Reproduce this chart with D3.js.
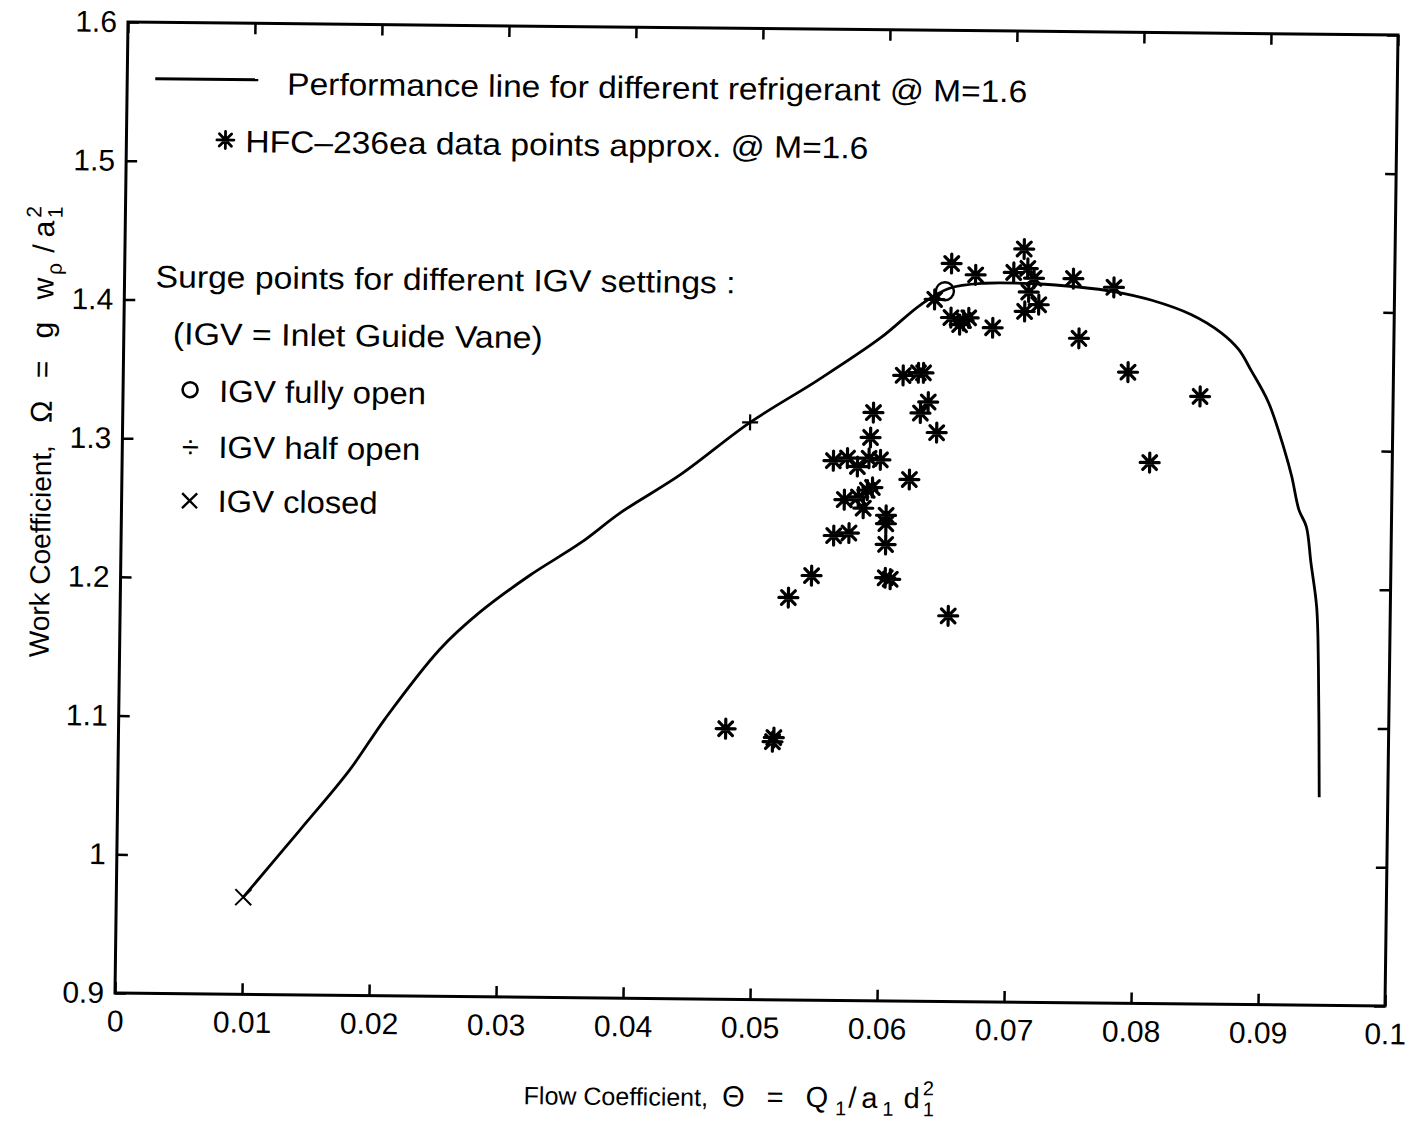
<html>
<head>
<style>
  body { margin: 0; background: #fff; }
  text { font-family: "Liberation Sans", Arial, Helvetica, sans-serif; fill: #000; }
</style>
</head>
<body>
<svg id="chart" width="1405" height="1121"></svg>
<script src="https://d3js.org/d3.v7.min.js"></script>
<script>
// performance line
var perfX = [0.0100, 0.0144, 0.0182, 0.0210, 0.0252, 0.0283, 0.0322, 0.0362, 0.0393, 0.0440, 0.0494,
             0.0547, 0.0596, 0.0627, 0.0649, 0.0677, 0.0716, 0.0751, 0.0779, 0.0809, 0.0840, 0.0864,
             0.0878, 0.0888, 0.0902, 0.0915, 0.0921, 0.0927, 0.0933, 0.0937, 0.0942, 0.0944, 0.0946];
var perfY = [0.970, 1.019, 1.062, 1.100, 1.150, 1.177, 1.204, 1.228, 1.250, 1.278, 1.316,
             1.347, 1.378, 1.402, 1.414, 1.418, 1.418, 1.416, 1.413, 1.407, 1.397, 1.384,
             1.372, 1.357, 1.334, 1.300, 1.281, 1.257, 1.245, 1.219, 1.187, 1.144, 1.050];

// HFC-236ea data points
var hfcX = [0.0651, 0.0670, 0.0638, 0.0708, 0.0700, 0.0711, 0.0716, 0.0712, 0.0709, 0.0720, 0.0747,
            0.0779, 0.0752, 0.0791, 0.0848, 0.0809, 0.0651, 0.0661, 0.0665, 0.0658, 0.0684, 0.0614,
            0.0626, 0.0630, 0.0591, 0.0634, 0.0628, 0.0641, 0.0589, 0.0560, 0.0571, 0.0579, 0.0588,
            0.0597, 0.0620, 0.0569, 0.0580, 0.0587, 0.0584, 0.0591, 0.0602, 0.0602, 0.0561, 0.0573,
            0.0602, 0.0602, 0.0606, 0.0544, 0.0526, 0.0652, 0.0478, 0.0516, 0.0515];
var hfcY = [1.432, 1.424, 1.406, 1.443, 1.426, 1.429, 1.422, 1.412, 1.398, 1.403, 1.422,
            1.416, 1.379, 1.355, 1.338, 1.290, 1.393, 1.391, 1.393, 1.388, 1.386, 1.351,
            1.353, 1.353, 1.324, 1.332, 1.324, 1.310, 1.306, 1.289, 1.291, 1.285, 1.291,
            1.290, 1.276, 1.261, 1.263, 1.268, 1.255, 1.270, 1.250, 1.244, 1.235, 1.237,
            1.229, 1.205, 1.204, 1.206, 1.190, 1.178, 1.095, 1.089, 1.086];

// surge points: fully open, half open, closed
var surgeNames = ["IGV fully open", "IGV half open", "IGV closed"];
var surgeX = [0.0646, 0.0494, 0.0100];
var surgeY = [1.412, 1.316, 0.970];

var xTicks = [0, 0.01, 0.02, 0.03, 0.04, 0.05, 0.06, 0.07, 0.08, 0.09, 0.1];
var xTickLabels = ["0", "0.01", "0.02", "0.03", "0.04", "0.05", "0.06", "0.07", "0.08", "0.09", "0.1"];
var yTicks = [0.9, 1.0, 1.1, 1.2, 1.3, 1.4, 1.5, 1.6];
var yTickLabels = ["0.9", "1", "1.1", "1.2", "1.3", "1.4", "1.5", "1.6"];

var W = 1270, H = 971;

var svg = d3.select("#chart");
// the scan is slightly skewed, so the whole plot is too
var g = svg.append("g")
  .attr("transform", "translate(128,22) matrix(1,0.01024,-0.01339,1,0,0)");

var x = d3.scaleLinear().domain([0, 0.1]).range([0, W]);
var y = d3.scaleLinear().domain([0.9, 1.6]).range([H, 0]);

// custom marker shapes for d3.symbol (size = half arm length)
var symStar = {
  draw: function (c, r) {
    var d = r * 0.72;
    c.moveTo(-r, 0); c.lineTo(r, 0);
    c.moveTo(0, -r); c.lineTo(0, r);
    c.moveTo(-d, -d); c.lineTo(d, d);
    c.moveTo(-d, d); c.lineTo(d, -d);
  }
};
var symX = {
  draw: function (c, r) {
    c.moveTo(-r, -r); c.lineTo(r, r);
    c.moveTo(-r, r); c.lineTo(r, -r);
  }
};
var symPlus = {
  draw: function (c, r) {
    c.moveTo(-r, 0); c.lineTo(r, 0);
    c.moveTo(0, -r); c.lineTo(0, r);
  }
};

function styleAxis(s) {
  s.select(".domain").remove();
  s.attr("font-size", 30).attr("font-family", "Liberation Sans, Arial, sans-serif");
  s.selectAll(".tick line").attr("stroke", "#000").attr("stroke-width", 2.5);
  s.selectAll(".tick text").attr("fill", "#000");
}

g.append("g")
  .attr("transform", "translate(0," + H + ")")
  .call(d3.axisBottom(x).tickValues(xTicks)
    .tickFormat(function (d, i) { return xTickLabels[i]; })
    .tickSizeInner(-11).tickSizeOuter(0).tickPadding(17))
  .call(styleAxis);

g.append("g")
  .call(d3.axisTop(x).tickValues(xTicks).tickFormat("")
    .tickSizeInner(-11).tickSizeOuter(0))
  .call(styleAxis);

g.append("g")
  .call(d3.axisLeft(y).tickValues(yTicks)
    .tickFormat(function (d, i) { return yTickLabels[i]; })
    .tickSizeInner(-11).tickSizeOuter(0).tickPadding(11))
  .call(styleAxis);

g.append("g")
  .attr("transform", "translate(" + W + ",0)")
  .call(d3.axisRight(y).tickValues(yTicks).tickFormat("")
    .tickSizeInner(-11).tickSizeOuter(0))
  .call(styleAxis);

g.append("rect")
  .attr("width", W).attr("height", H)
  .attr("fill", "none").attr("stroke", "#000").attr("stroke-width", 3);

// performance line
var line = d3.line()
  .x(function (d) { return x(d[0]); })
  .y(function (d) { return y(d[1]); })
  .curve(d3.curveCatmullRom.alpha(0.5));

g.append("path")
  .datum(d3.zip(perfX, perfY))
  .attr("d", line)
  .attr("fill", "none")
  .attr("stroke", "#000")
  .attr("stroke-width", 2.8)
  .attr("stroke-linejoin", "round");

// HFC points
g.append("g").selectAll("path")
  .data(d3.zip(hfcX, hfcY))
  .join("path")
  .attr("transform", function (d) { return "translate(" + x(d[0]) + "," + y(d[1]) + ")"; })
  .attr("d", d3.symbol().type(symStar).size(9.5))
  .attr("fill", "none")
  .attr("stroke", "#000")
  .attr("stroke-width", 3.2)
  .attr("stroke-linecap", "round");

// surge points
g.append("circle")
  .attr("cx", x(surgeX[0])).attr("cy", y(surgeY[0])).attr("r", 9)
  .attr("fill", "none").attr("stroke", "#000").attr("stroke-width", 2.4);
g.append("path")
  .attr("transform", "translate(" + x(surgeX[1]) + "," + y(surgeY[1]) + ")")
  .attr("d", d3.symbol().type(symPlus).size(8))
  .attr("fill", "none").attr("stroke", "#000").attr("stroke-width", 2.2);
g.append("path")
  .attr("transform", "translate(" + x(surgeX[2]) + "," + y(surgeY[2]) + ")")
  .attr("d", d3.symbol().type(symX).size(8))
  .attr("fill", "none").attr("stroke", "#000").attr("stroke-width", 2);

// legend
var leg = g.append("g").attr("font-size", 31);
leg.append("line")
  .attr("x1", 28).attr("x2", 131).attr("y1", 56.5).attr("y2", 56.5)
  .attr("stroke", "#000").attr("stroke-width", 3);
leg.append("text").attr("x", 160).attr("y", 71)
  .attr("textLength", 740).attr("lengthAdjust", "spacingAndGlyphs")
  .text("Performance line for different refrigerant @ M=1.6");
leg.append("path")
  .attr("transform", "translate(99,117)")
  .attr("d", d3.symbol().type(symStar).size(8.5))
  .attr("fill", "none").attr("stroke", "#000").attr("stroke-width", 2.8)
  .attr("stroke-linecap", "round");
leg.append("text").attr("x", 119).attr("y", 129)
  .attr("textLength", 623).attr("lengthAdjust", "spacingAndGlyphs")
  .text("HFC\u2013236ea data points approx. @ M=1.6");
leg.append("text").attr("x", 31).attr("y", 265)
  .attr("textLength", 580).attr("lengthAdjust", "spacingAndGlyphs")
  .text("Surge points for different IGV settings :");
leg.append("text").attr("x", 49).attr("y", 322)
  .attr("textLength", 370).attr("lengthAdjust", "spacingAndGlyphs")
  .text("(IGV = Inlet Guide Vane)");

var legY = [379, 435, 489];
var legLen = [207, 202, 160];
leg.append("circle").attr("cx", 67).attr("cy", legY[0] - 12).attr("r", 7.5)
  .attr("fill", "none").attr("stroke", "#000").attr("stroke-width", 2.6);
leg.append("text").attr("x", 68).attr("y", legY[1]).attr("text-anchor", "middle").text("\u00f7");
leg.append("path")
  .attr("transform", "translate(68," + (legY[2] - 11) + ")")
  .attr("d", d3.symbol().type(symX).size(7.5))
  .attr("fill", "none").attr("stroke", "#000").attr("stroke-width", 2.4);
surgeNames.forEach(function (name, i) {
  leg.append("text").attr("x", 96).attr("y", legY[i])
    .attr("textLength", legLen[i]).attr("lengthAdjust", "spacingAndGlyphs")
    .text(name);
});

// axis titles
var xt = g.append("text")
  .attr("x", 410).attr("y", 1078)
  .attr("font-size", 25);
xt.append("tspan").text("Flow Coefficient,");
xt.append("tspan").attr("dx", 14).attr("font-size", 29).attr("letter-spacing", 7)
  .text("\u0398 = Q");
xt.append("tspan").attr("dx", 0).attr("dy", 8).attr("font-size", 20).text("1");
xt.append("tspan").attr("dx", 2).attr("dy", -8).attr("font-size", 29).attr("letter-spacing", 5).text("/a");
xt.append("tspan").attr("dx", 0).attr("dy", 8).attr("font-size", 20).text("1");
xt.append("tspan").attr("dx", 10).attr("dy", -8).attr("font-size", 29).text("d");
xt.append("tspan").attr("dx", 3).attr("dy", -13).attr("font-size", 20).text("2");
xt.append("tspan").attr("dx", -11).attr("dy", 21).attr("font-size", 20).text("1");

var yt = g.append("text")
  .attr("transform", "translate(-71,636) rotate(-90)")
  .attr("font-size", 28);
yt.append("tspan").text("Work Coefficient,");
yt.append("tspan").attr("dx", 22).attr("font-size", 30).attr("letter-spacing", 7)
  .text("\u03a9 = g w");
yt.append("tspan").attr("dx", -4).attr("dy", 8).attr("font-size", 21).text("\u03c1");
yt.append("tspan").attr("dx", 10).attr("dy", -8).attr("font-size", 30).attr("letter-spacing", 7).text("/a");
yt.append("tspan").attr("dx", -4).attr("dy", -13).attr("font-size", 21).text("2");
yt.append("tspan").attr("dx", -12).attr("dy", 21).attr("font-size", 21).text("1");
</script>
</body>
</html>
